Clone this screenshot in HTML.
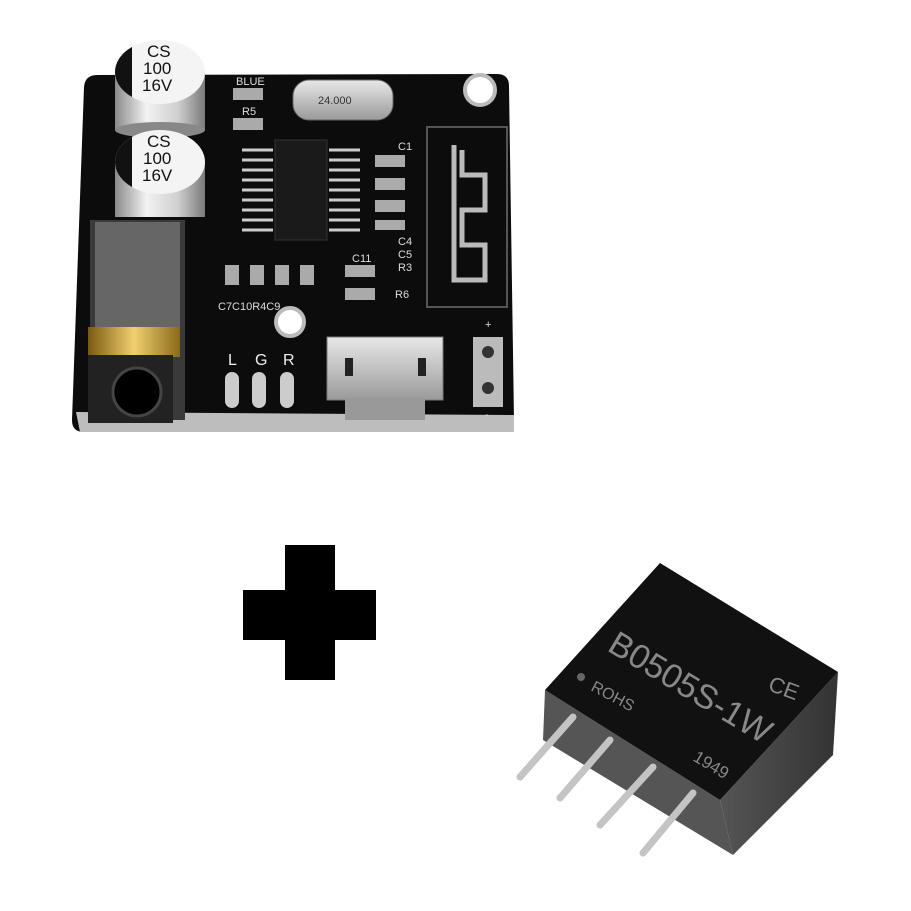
<!DOCTYPE html>
<html><head><meta charset="utf-8"><style>
html,body{margin:0;padding:0;background:#fff;width:911px;height:911px;overflow:hidden}
svg{display:block}
text{font-family:"Liberation Sans",sans-serif}
</style></head><body>
<svg width="911" height="911" viewBox="0 0 911 911" xmlns="http://www.w3.org/2000/svg">
<defs>
<linearGradient id="cap" x1="0" x2="1">
<stop offset="0" stop-color="#8a8a8a"/><stop offset="0.35" stop-color="#f2f2f2"/><stop offset="0.7" stop-color="#cfcfcf"/><stop offset="1" stop-color="#7a7a7a"/></linearGradient>
<linearGradient id="usb" x1="0" y1="0" x2="0" y2="1"><stop offset="0" stop-color="#e8e8e8"/><stop offset="1" stop-color="#9a9a9a"/></linearGradient>
<linearGradient id="gold" x1="0" x2="1"><stop offset="0" stop-color="#7a5a10"/><stop offset="0.5" stop-color="#f0d070"/><stop offset="1" stop-color="#8a6a18"/></linearGradient>
<linearGradient id="side" x1="0" y1="0" x2="1" y2="0"><stop offset="0" stop-color="#555"/><stop offset="1" stop-color="#333"/></linearGradient>
<clipPath id="c1"><ellipse cx="160" cy="72" rx="45" ry="32"/></clipPath>
<clipPath id="c2"><ellipse cx="160" cy="162" rx="45" ry="32"/></clipPath>
</defs>
<path d="M97 75 L497 74 Q509 74 509 86 L514 420 Q514 432 502 432 L84 432 Q72 432 72 420 L84 87 Q85 75 97 75Z" fill="#0c0c0c"/>
<path d="M76 412 L514 415 L514 432 L80 432Z" fill="#bdbdbd"/>
<circle cx="480" cy="90" r="15" fill="#fff" stroke="#bbb" stroke-width="4"/>
<circle cx="290" cy="322" r="14" fill="#fff" stroke="#bbb" stroke-width="4"/>
<path d="M427 127 L507 127 L507 307 L427 307 Z" fill="none" stroke="#555" stroke-width="2"/>
<path d="M454 145 L454 280 L485 280 L485 245 L462 245 L462 210 L485 210 L485 175 L462 175 L462 150" fill="none" stroke="#bbb" stroke-width="5"/>
<rect x="275" y="140" width="52" height="100" fill="#1a1a1a" stroke="#333"/>
<g stroke="#ccc" stroke-width="3">
<line x1="242" y1="150" x2="273" y2="150"/><line x1="242" y1="160" x2="273" y2="160"/><line x1="242" y1="170" x2="273" y2="170"/><line x1="242" y1="180" x2="273" y2="180"/><line x1="242" y1="190" x2="273" y2="190"/><line x1="242" y1="200" x2="273" y2="200"/><line x1="242" y1="210" x2="273" y2="210"/><line x1="242" y1="220" x2="273" y2="220"/><line x1="242" y1="230" x2="273" y2="230"/>
<line x1="329" y1="150" x2="360" y2="150"/><line x1="329" y1="160" x2="360" y2="160"/><line x1="329" y1="170" x2="360" y2="170"/><line x1="329" y1="180" x2="360" y2="180"/><line x1="329" y1="190" x2="360" y2="190"/><line x1="329" y1="200" x2="360" y2="200"/><line x1="329" y1="210" x2="360" y2="210"/><line x1="329" y1="220" x2="360" y2="220"/><line x1="329" y1="230" x2="360" y2="230"/>
</g>
<rect x="293" y="80" width="100" height="40" rx="16" fill="url(#usb)" stroke="#666"/>
<text x="318" y="104" font-size="11" fill="#333">24.000</text>
<g fill="#aaa"><rect x="375" y="155" width="30" height="12"/><rect x="375" y="178" width="30" height="12"/><rect x="375" y="200" width="30" height="12"/><rect x="375" y="220" width="30" height="10"/><rect x="225" y="265" width="14" height="20"/><rect x="250" y="265" width="14" height="20"/><rect x="275" y="265" width="14" height="20"/><rect x="300" y="265" width="14" height="20"/><rect x="345" y="265" width="30" height="12"/><rect x="345" y="288" width="30" height="12"/><rect x="233" y="88" width="30" height="12"/><rect x="233" y="118" width="30" height="12"/></g>
<g fill="#ddd" font-size="11"><text x="236" y="85">BLUE</text><text x="242" y="115">R5</text><text x="398" y="150">C1</text><text x="398" y="245">C4</text><text x="398" y="258">C5</text><text x="398" y="271">R3</text><text x="352" y="262">C11</text><text x="395" y="298">R6</text><text x="218" y="310">C7C10R4C9</text><text x="485" y="328">+</text><text x="485" y="418">-</text></g>
<g fill="#eee" font-size="16" font-family="Liberation Serif"><text x="228" y="365">L</text><text x="255" y="365">G</text><text x="283" y="365">R</text></g>
<g fill="#ccc"><rect x="225" y="372" width="14" height="36" rx="7"/><rect x="252" y="372" width="14" height="36" rx="7"/><rect x="280" y="372" width="14" height="36" rx="7"/></g>
<rect x="473" y="337" width="30" height="70" fill="#bbb"/>
<circle cx="488" cy="352" r="6" fill="#333"/><circle cx="488" cy="388" r="6" fill="#333"/>
<path d="M327 337 L443 337 L443 400 L327 400Z" fill="url(#usb)" stroke="#777"/>
<rect x="345" y="398" width="80" height="22" fill="#999"/>
<rect x="345" y="358" width="8" height="18" fill="#222"/><rect x="418" y="358" width="8" height="18" fill="#222"/>
<rect x="115" y="72" width="90" height="58" fill="url(#cap)"/>
<ellipse cx="160" cy="130" rx="45" ry="8" fill="#888"/>
<ellipse cx="160" cy="72" rx="45" ry="32" fill="#f4f4f4"/>
<rect x="110" y="38" width="22" height="70" fill="#111" clip-path="url(#c1)"/>
<g font-size="17" fill="#111"><text x="147" y="57">CS</text><text x="143" y="74">100</text><text x="142" y="91">16V</text>
<text x="147" y="147">CS</text><text x="143" y="164">100</text><text x="142" y="181">16V</text></g>
<rect x="115" y="162" width="90" height="55" fill="url(#cap)"/>
<ellipse cx="160" cy="162" rx="45" ry="32" fill="#f4f4f4"/>
<rect x="110" y="128" width="22" height="70" fill="#111" clip-path="url(#c2)"/>
<g font-size="17" fill="#111"><text x="147" y="147">CS</text><text x="143" y="164">100</text><text x="142" y="181">16V</text></g>
<rect x="90" y="220" width="95" height="200" fill="#3a3a3a"/>
<rect x="95" y="222" width="85" height="105" fill="#666"/>
<rect x="88" y="327" width="92" height="30" fill="url(#gold)"/>
<rect x="88" y="355" width="85" height="68" fill="#222"/>
<circle cx="137" cy="392" r="24" fill="#000" stroke="#444" stroke-width="3"/>
<rect x="243" y="590" width="133" height="50" fill="#000"/>
<rect x="285" y="545" width="50" height="135" fill="#000"/>
<path d="M545 690 L720 800 L733 855 L543 740 Z" fill="#555"/>
<path d="M838 672 L833 755 L733 855 L720 800 Z" fill="url(#side)"/>
<path d="M660 563 L838 672 L720 800 L545 690 Z" fill="#111"/>
<g font-family="Liberation Serif" fill="#888">
<text x="606" y="650" font-size="34" transform="rotate(31 606 650)">B0505S-1W</text>
<circle cx="581" cy="677" r="4" fill="#666"/>
<text x="590" y="690" font-size="16" transform="rotate(28 590 690)">ROHS</text>
<text x="692" y="760" font-size="17" transform="rotate(31 692 760)">1949</text>
<text x="767" y="690" font-size="22" transform="rotate(20 767 690)">CE</text>
</g>
<g stroke="#c4c4c4" stroke-width="7" stroke-linecap="round">
<line x1="573" y1="717" x2="520" y2="777"/>
<line x1="610" y1="740" x2="560" y2="798"/>
<line x1="653" y1="767" x2="600" y2="825"/>
<line x1="693" y1="793" x2="643" y2="853"/>
</g>
</svg>
</body></html>
